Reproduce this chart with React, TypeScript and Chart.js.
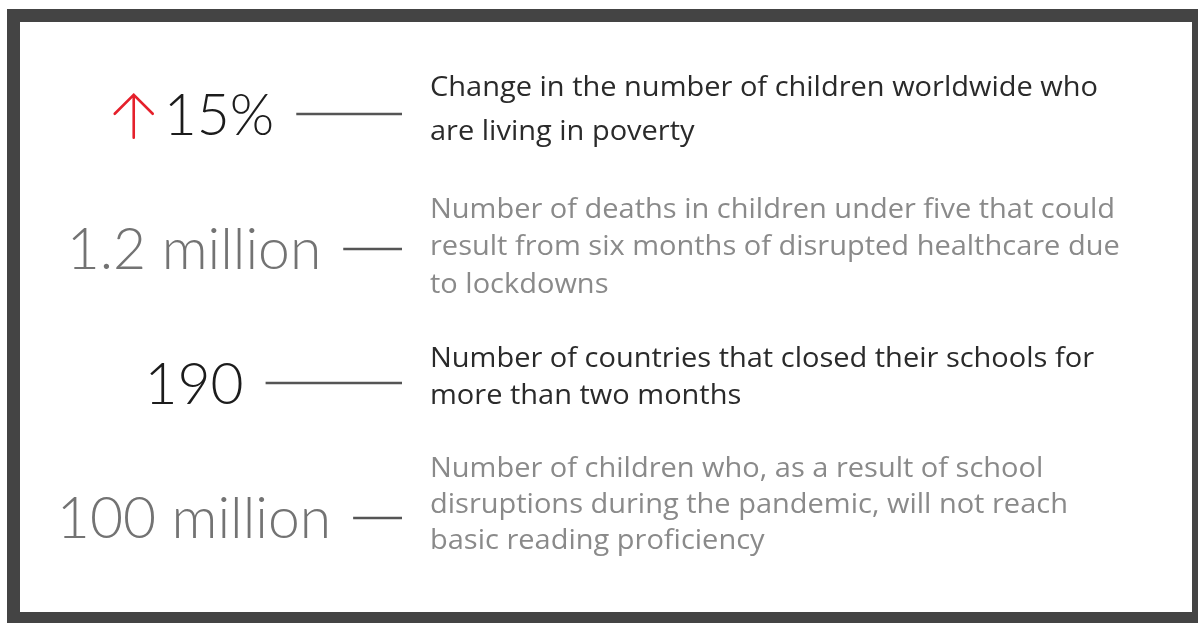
import React, { useEffect, useRef } from "react";
import { Chart, registerables } from "chart.js";

Chart.register(...registerables);

// ---- data ----
const statValues: string[] = ["15%", "1.2 million", "190", "100 million"];
const statIsIncrease: boolean[] = [true, false, false, false];
const statIsDark: boolean[] = [true, false, true, false];
const descriptionLines: string[][] = [
  ["Change in the number of children worldwide who", "are living in poverty"],
  [
    "Number of deaths in children under five that could",
    "result from six months of disrupted healthcare due",
    "to lockdowns",
  ],
  ["Number of countries that closed their schools for", "more than two months"],
  [
    "Number of children who, as a result of school",
    "disruptions during the pandemic, will not reach",
    "basic reading proficiency",
  ],
];

// ---- layout / style ----
const W = 1198;
const H = 623;
const NUMBER_CENTER_X = 194;
const CONNECTOR_END_X = 402;
const DESC_X = 430;
const DESC_REF_WIDTH = 668;
const DESC_FIRST_BASELINE = [-18, -31, -16, -41];
const DESC_LINE_GAP = [44, 37.5, 37, 36];
const DARK_NUM = "#1c1c1c";
const LIGHT_NUM = "#737373";
const DARK_TEXT = "#2a2a2a";
const LIGHT_TEXT = "#8a8a8a";
const FRAME = "#444444";
const ARROW_RED = "#e5202b";

const infographicPlugin = {
  id: "infographic",
  beforeDraw(chart: any) {
    const ctx = chart.ctx as CanvasRenderingContext2D;
    ctx.save();
    ctx.fillStyle = "#ffffff";
    ctx.fillRect(0, 0, W, H);
    ctx.fillStyle = FRAME;
    ctx.fillRect(7, 9, W - 7, 13); // top
    ctx.fillRect(7, 9, 13, H - 9); // left
    ctx.fillRect(1192, 9, W - 1192, H - 9); // right
    ctx.fillRect(7, 612, W - 7, H - 612); // bottom
    ctx.restore();
  },
  afterDraw(chart: any) {
    const ctx = chart.ctx as CanvasRenderingContext2D;
    const yScale = chart.scales.y;
    ctx.save();
    statValues.forEach((val, i) => {
      const rowY = yScale.getPixelForValue(i);
      // big number
      ctx.font = '300 57px "Lato"';
      ctx.textBaseline = "alphabetic";
      ctx.textAlign = "left";
      const m = ctx.measureText(val);
      const digitAsc = ctx.measureText("0").actualBoundingBoxAscent;
      const baseY = rowY + digitAsc / 2;
      const arrowW = statIsIncrease[i] ? 40 : 0;
      const arrowGap = statIsIncrease[i] ? 10 : 0;
      const groupW = arrowW + arrowGap + m.width;
      const left = NUMBER_CENTER_X - groupW / 2;
      if (statIsIncrease[i]) {
        const cx = left + arrowW / 2;
        const top = baseY - digitAsc;
        ctx.strokeStyle = ARROW_RED;
        ctx.lineWidth = 2.6;
        ctx.lineCap = "round";
        ctx.beginPath();
        ctx.moveTo(cx, top + 1);
        ctx.lineTo(cx, baseY + 3);
        ctx.moveTo(cx - 19, top + 20);
        ctx.lineTo(cx, top + 1);
        ctx.lineTo(cx + 19, top + 20);
        ctx.stroke();
      }
      ctx.fillStyle = statIsDark[i] ? DARK_NUM : LIGHT_NUM;
      const textX = left + arrowW + arrowGap;
      ctx.fillText(val, textX, baseY);
      // connector
      const startX = textX + m.width + 22;
      ctx.strokeStyle = "#555555";
      ctx.lineWidth = 2.4;
      ctx.lineCap = "butt";
      ctx.beginPath();
      ctx.moveTo(startX, Math.round(rowY));
      ctx.lineTo(CONNECTOR_END_X, Math.round(rowY));
      ctx.stroke();
      // description
      ctx.font = '400 27px "Open Sans"';
      const refW = ctx.measureText(descriptionLines[0][0]).width;
      const sx = DESC_REF_WIDTH / refW;
      ctx.fillStyle = statIsDark[i] ? DARK_TEXT : LIGHT_TEXT;
      descriptionLines[i].forEach((line, j) => {
        const y = rowY + DESC_FIRST_BASELINE[i] + j * DESC_LINE_GAP[i];
        ctx.save();
        ctx.translate(DESC_X, y);
        ctx.scale(sx, 1);
        ctx.fillText(line, 0, 0);
        ctx.restore();
      });
    });
    ctx.restore();
  },
};

export default function App() {
  const canvasRef = useRef<HTMLCanvasElement | null>(null);

  useEffect(() => {
    const canvas = canvasRef.current;
    if (!canvas) return;
    const chart = new Chart(canvas, {
      type: "scatter",
      data: {
        labels: statValues,
        datasets: [
          {
            data: statValues.map((v, i) => ({ x: 0.5, y: i })),
            pointRadius: 0,
            showLine: false,
          },
        ],
      },
      options: {
        animation: false,
        responsive: false,
        devicePixelRatio: 1,
        layout: { padding: { top: 47, bottom: 38, left: 0, right: 0 } },
        plugins: { legend: { display: false }, tooltip: { enabled: false } },
        events: [],
        scales: {
          x: { type: "linear", display: false, min: 0, max: 1 },
          y: {
            type: "category",
            labels: statValues,
            offset: true,
            display: false,
          },
        },
      },
      plugins: [infographicPlugin],
    } as any);
    return () => chart.destroy();
  }, []);

  return (
    <div style={{ position: "fixed", left: 0, top: 0, width: W, height: H, background: "#fff" }}>
      <canvas ref={canvasRef} width={W} height={H} style={{ display: "block" }} />
    </div>
  );
}
